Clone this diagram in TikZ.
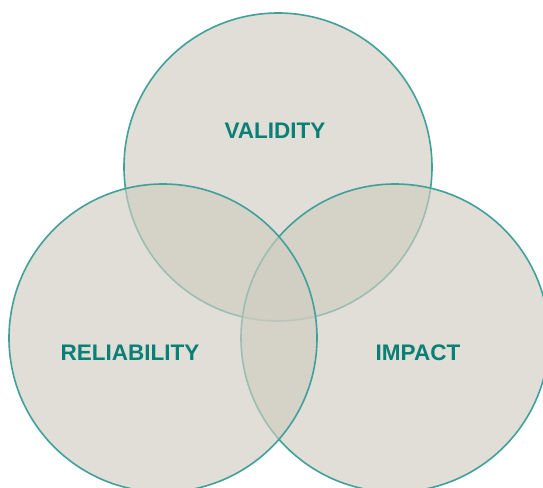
\documentclass[tikz,border=0pt]{standalone}
\usepackage{fontspec}
\setmainfont{Liberation Sans}
\definecolor{ringc}{RGB}{64,160,154}
\definecolor{fillc}{RGB}{207,204,192}
\definecolor{textc}{RGB}{8,128,118}
\begin{document}
\begin{tikzpicture}[x=1pt,y=-1pt,
  ring/.style={circle,draw=ringc,line width=1.6pt,fill=fillc,fill opacity=0.65,draw opacity=1,minimum size=308pt,inner sep=0pt},
  lab/.style={text=textc,font=\fontsize{22.5}{26}\selectfont\bfseries}]
\useasboundingbox (0,0) rectangle (543,487);
\node[ring] (validity) at (278,167) {};
\node[ring] (impact) at (395,338) {};
\node[ring] (reliability) at (163,338) {};
\node[lab] (tv) at (275,131) {VALIDITY};
\node[lab] (tr) at (130,353) {RELIABILITY};
\node[lab] (ti) at (418,353) {IMPACT};
\end{tikzpicture}
\end{document}
